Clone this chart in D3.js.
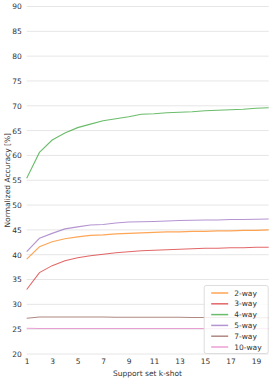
<!DOCTYPE html>
<html>
<head>
<meta charset="utf-8">
<script src="https://cdn.jsdelivr.net/npm/d3@7"></script>
<style>
  body { margin: 0; background: #fff; }
  text { font-family: "DejaVu Sans", sans-serif; }
</style>
</head>
<body>
<div id="viz"></div>
<script>
// k-shot values on the x axis
var shots = d3.range(1, 21);

// normalized accuracy per n-way setting
var way2 = [39.1, 41.6, 42.6, 43.2, 43.6, 43.9, 44.0, 44.2, 44.3, 44.4, 44.5, 44.6, 44.6, 44.7, 44.7, 44.8, 44.8, 44.9, 44.9, 45.0];
var way3 = [33.0, 36.4, 37.8, 38.8, 39.4, 39.8, 40.1, 40.4, 40.6, 40.8, 40.9, 41.0, 41.1, 41.2, 41.3, 41.3, 41.4, 41.4, 41.5, 41.5];
var way4 = [55.4, 60.6, 63.1, 64.5, 65.6, 66.3, 67.0, 67.4, 67.8, 68.3, 68.4, 68.6, 68.7, 68.8, 69.0, 69.1, 69.2, 69.3, 69.5, 69.6];
var way5 = [40.6, 43.3, 44.3, 45.2, 45.6, 46.0, 46.1, 46.4, 46.6, 46.65, 46.7, 46.8, 46.9, 46.95, 47.0, 47.0, 47.1, 47.1, 47.15, 47.2];
var way7 = [27.2, 27.45, 27.45, 27.45, 27.45, 27.45, 27.45, 27.4, 27.4, 27.4, 27.4, 27.4, 27.4, 27.35, 27.35, 27.35, 27.35, 27.3, 27.3, 27.3];
var way10 = [25.2, 25.15, 25.15, 25.15, 25.15, 25.15, 25.15, 25.15, 25.15, 25.15, 25.15, 25.15, 25.15, 25.15, 25.15, 25.15, 25.15, 25.15, 25.15, 25.15];

var seriesNames = ['2-way', '3-way', '4-way', '5-way', '7-way', '10-way'];
var seriesColors = ['#ff7f0e', '#d62728', '#2ca02c', '#9467bd', '#8c564b', '#e377c2'];
var yTicks = d3.range(20, 91, 5);
var xTicks = [1, 3, 5, 7, 9, 11, 13, 15, 17, 19];

var series = [way2, way3, way4, way5, way7, way10];

var W = 273, H = 382,
    margin = { top: 6.5, right: 4.3, bottom: 28, left: 26.7 },
    width = W - margin.left - margin.right,
    height = H - margin.top - margin.bottom;

var svg = d3.select('#viz').append('svg')
    .attr('width', W)
    .attr('height', H);

var g = svg.append('g')
    .attr('transform', 'translate(' + margin.left + ',' + margin.top + ')');

var xScale = d3.scaleLinear().domain([1, 20]).range([0, width]);
var yScale = d3.scaleLinear().domain([20, 90]).range([height, 0]);

// horizontal grid
g.append('g')
    .selectAll('line').data(yTicks)
    .enter().append('line')
    .attr('x1', 0).attr('x2', width)
    .attr('y1', function (d) { return yScale(d); })
    .attr('y2', function (d) { return yScale(d); })
    .attr('stroke', '#e6e6e6')
    .attr('stroke-width', 1);

var yAxis = g.append('g')
    .call(d3.axisLeft(yScale).tickValues(yTicks).tickSize(0).tickPadding(5));
yAxis.select('.domain').remove();
yAxis.selectAll('text').attr('font-size', 7.5).attr('fill', '#333');

var xAxis = g.append('g')
    .attr('transform', 'translate(0,' + height + ')')
    .call(d3.axisBottom(xScale).tickValues(xTicks).tickSize(0).tickPadding(4.5));
xAxis.select('.domain').remove();
xAxis.selectAll('text').attr('font-size', 7.5).attr('fill', '#333');

var line = d3.line()
    .x(function (d, i) { return xScale(shots[i]); })
    .y(function (d) { return yScale(d); });

series.forEach(function (s, i) {
    g.append('path')
        .datum(s)
        .attr('d', line)
        .attr('fill', 'none')
        .attr('stroke', seriesColors[i])
        .attr('stroke-opacity', 0.7)
        .attr('stroke-width', 1.1);
});

// axis titles
svg.append('text')
    .attr('x', 147.5)
    .attr('y', 376)
    .attr('text-anchor', 'middle')
    .attr('font-size', 7.5)
    .attr('fill', '#333')
    .text('Support set k-shot');

svg.append('text')
    .attr('transform', 'translate(9.5,' + (margin.top + height / 2) + ') rotate(-90)')
    .attr('text-anchor', 'middle')
    .attr('font-size', 7.5)
    .attr('fill', '#333')
    .text('Normalized Accuracy [%]');

// legend
var legend = g.append('g')
    .attr('transform', 'translate(' + (width - 64.5) + ',' + (height - 68.5) + ')');

legend.append('rect')
    .attr('width', 64).attr('height', 68)
    .attr('rx', 2)
    .attr('fill', '#fff')
    .attr('fill-opacity', 0.85)
    .attr('stroke', '#ddd');

var items = legend.selectAll('g.item').data(seriesNames)
    .enter().append('g')
    .attr('transform', function (d, i) { return 'translate(0,' + (7.5 + i * 10.8) + ')'; });

items.append('line')
    .attr('x1', 7).attr('x2', 24)
    .attr('stroke', function (d, i) { return seriesColors[i]; })
    .attr('stroke-opacity', 0.7)
    .attr('stroke-width', 1.5);

items.append('text')
    .attr('x', 30)
    .attr('dy', '0.35em')
    .attr('font-size', 7.5)
    .attr('fill', '#333')
    .text(function (d) { return d; });
</script>
</body>
</html>
